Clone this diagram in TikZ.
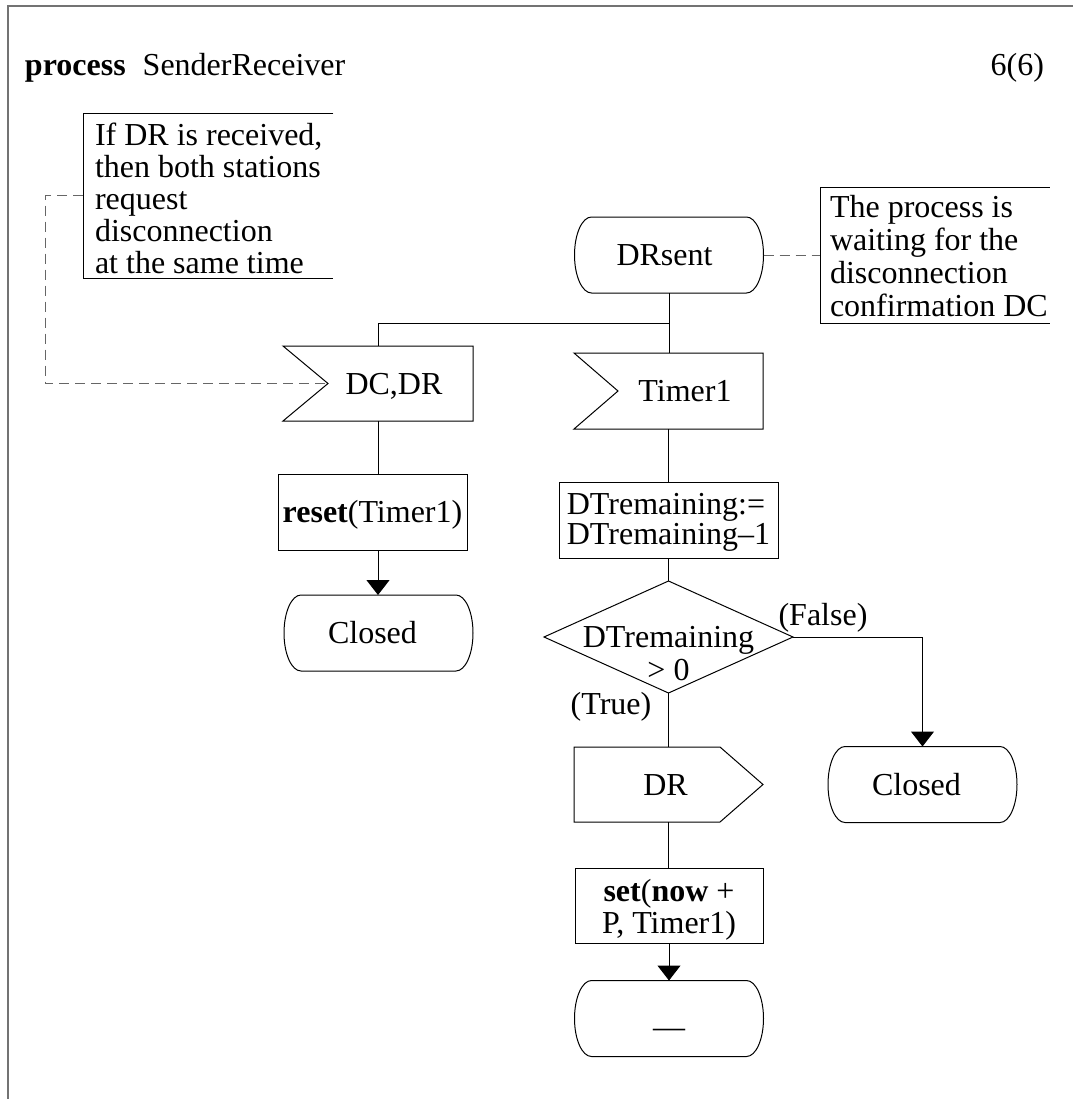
\documentclass[tikz,border=0pt]{standalone}
\usepackage{fontspec}
\setmainfont{Liberation Serif}
\usetikzlibrary{arrows.meta,calc}

% 16pt text with a fixed line pitch (#1)
\newcommand\sdlsize[1]{\fontsize{16pt}{#1}\selectfont\lineskiplimit=-\maxdimen\relax}
% invisible strut: height #1, depth #2
\newcommand\sdlrule[2]{\rule[-#2]{0pt}{\dimexpr#1+#2\relax}}

% SDL symbol outlines drawn around named nodes
\newcommand\sdlstate[1]{%
  \draw[shapeline] ([xshift=8.5pt]#1.north west) -- ([xshift=-8.5pt]#1.north east)
    arc[start angle=90,end angle=-90,x radius=8.5pt,y radius=19pt]
    -- ([xshift=8.5pt]#1.south west)
    arc[start angle=270,end angle=90,x radius=8.5pt,y radius=19pt] -- cycle;}
\newcommand\sdlinput[2]{%
  \draw[shapeline] (#1.north west) -- (#1.north east) -- (#1.south east)
    -- (#1.south west) -- ([xshift=#2]#1.west) -- cycle;}
\newcommand\sdloutput[2]{%
  \draw[shapeline] (#1.north west) -- ([xshift=-#2]#1.north east) -- (#1.east)
    -- ([xshift=-#2]#1.south east) -- (#1.south west) -- cycle;}

\begin{document}
\begin{tikzpicture}[x=0.5pt,y=-0.5pt,
  shapeline/.style={draw=black,line width=0.5pt},
  flow/.style={draw=black,line width=0.5pt},
  flowarrow/.style={flow,-{Triangle[width=11.5pt,length=7.5pt]}},
  commentline/.style={draw=black!60,line width=0.5pt,dash pattern=on 5pt off 3pt},
  frameline/.style={draw=black!55,line width=1pt},
  every node/.style={inner sep=0pt,outer sep=0pt},
  oneline/.style={font=\sdlsize{16pt},text height=10.6pt,text depth=0pt},
  statebox/.style={oneline,minimum width=94.5pt,minimum height=38pt},
  taskbox/.style={draw=black,line width=0.5pt}]

\useasboundingbox (0,0) rectangle (1073,1099);

% page frame
\draw[frameline] (7.5,1099) -- (7.5,6) -- (1073,6);

% heading
\node[anchor=base west,font=\sdlsize{16pt}] (title) at (25,75)
  {\textbf{process}\hspace{8.5pt}SenderReceiver};
\node[anchor=base east,font=\sdlsize{16pt}] (page) at (1044,75) {6(6)};

% comments
\node[anchor=west,font=\sdlsize{16pt},align=left] (c1) at (95,195.5)
  {\sdlrule{16pt}{0pt}If DR is received,\\then both stations\\request\\disconnection\\at the same time\sdlrule{0pt}{2.5pt}};
\draw[shapeline] ([xshift=5.5pt]c1.north east) -- ([xshift=-6pt]c1.north west)
  -- ([xshift=-6pt]c1.south west) -- ([xshift=5.5pt]c1.south east);

\node[anchor=west,font=\sdlsize{16.5pt},align=left] (c2) at (830,255)
  {\sdlrule{15pt}{0pt}The process is\\waiting for the\\disconnection\\confirmation DC\sdlrule{0pt}{3.5pt}};
\draw[shapeline] ([xshift=1pt]c2.north east) -- ([xshift=-5pt]c2.north west)
  -- ([xshift=-5pt]c2.south west) -- ([xshift=1pt]c2.south east);

% states
\node[statebox] (drsent)  at (669,255)    {DRsent\hspace*{4.5pt}};
\node[statebox] (closedL) at (378.5,633)  {Closed\hspace*{6pt}};
\node[statebox] (closedR) at (922.5,784.5){Closed\hspace*{6pt}};
\node[statebox,text height=18.5pt] (nextst) at (669,1018.5) {—};
\sdlstate{drsent}
\sdlstate{closedL}
\sdlstate{closedR}
\sdlstate{nextst}

% signal inputs
\node[oneline,minimum width=95pt,minimum height=37.5pt] (dcdr) at (378,383.5) {\hspace*{16pt}DC,DR};
\node[oneline,minimum width=94.5pt,minimum height=38pt] (timer) at (668.5,391) {\hspace*{16.5pt}Timer1};
\sdlinput{dcdr}{22.5pt}
\sdlinput{timer}{22pt}

% tasks
\node[oneline,taskbox,minimum width=94.5pt,minimum height=38pt] (reset) at (372.5,512)
  {\textbf{reset}(Timer1)};
\node[taskbox,font=\sdlsize{15pt},align=left,minimum width=109.5pt,minimum height=38pt] (dtrem) at (668.5,520)
  {\sdlrule{12.8pt}{0pt}DTremaining:=\\DTremaining–1\sdlrule{0pt}{2.2pt}};
\node[taskbox,font=\sdlsize{16pt},align=center,minimum width=94pt,minimum height=37.5pt] (setb) at (669,905.5)
  {\sdlrule{15pt}{0pt}\textbf{set}(\textbf{now} +\\P, Timer1)\sdlrule{0pt}{1pt}};

% decision
\node[minimum width=124.5pt,minimum height=56pt] (dec) at (668.5,637) {};
\draw[shapeline] (dec.north) -- (dec.east) -- (dec.south) -- (dec.west) -- cycle;
\node[font=\sdlsize{16.5pt},align=center] (dectxt) at (668.5,653.5)
  {\sdlrule{13.55pt}{0pt}DTremaining\\> 0\sdlrule{0pt}{2.95pt}};
\node[oneline] (tlab) at (611,704) {(True)};
\node[oneline] (flab) at (823,615) {(False)};

% signal output
\node[oneline,minimum width=94.5pt,minimum height=37.5pt] (drout) at (668.5,784.5) {DR\hspace*{3pt}};
\sdloutput{drout}{21.5pt}

% flow lines
\coordinate (split) at (669,323);
\draw[flow] (drsent.south) -- (drsent.south |- timer.north);
\draw[flow] (dcdr.north) |- (split);
\draw[flow] (timer.south) -- (timer.south |- dtrem.north);
\draw[flow] (dtrem.south) -- (dec.north);
\draw[flow] (dec.south) -- (drout.north);
\draw[flow] (drout.south) -- (drout.south |- setb.north);
\draw[flowarrow] (setb.south) -- (nextst.north);
\draw[flow] (dcdr.south) -- (dcdr.south |- reset.north);
\draw[flowarrow] (dcdr.south |- reset.south) -- (dcdr.south |- closedL.north);
\draw[flowarrow] (dec.east) -| (closedR.north);

% comment attachments
\draw[commentline] (drsent.east) -- ([xshift=-5pt]c2.west);
\draw[commentline] ([xshift=-6pt]c1.west) -- ++(-19pt,0) |- ([xshift=22.5pt]dcdr.west);
\end{tikzpicture}
\end{document}
